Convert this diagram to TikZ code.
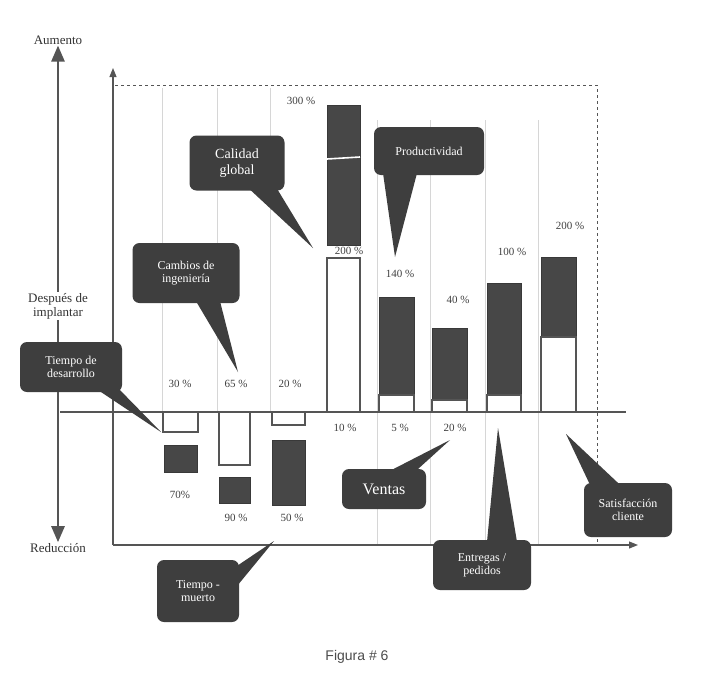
\documentclass[tikz,border=0pt]{standalone}
\usepackage{fontspec}
\setmainfont{Liberation Serif}
\newfontfamily\capfont{Liberation Sans}
\usetikzlibrary{arrows.meta}

\definecolor{barDark}{HTML}{474747}
\definecolor{bubbleGray}{HTML}{3E3E3E}
\definecolor{axisGray}{HTML}{555555}
\definecolor{guideGray}{HTML}{D6D6D6}

\begin{document}
\begin{tikzpicture}[x=1pt, y=-1pt,
        bubble/.style={rectangle, rounded corners=7pt, fill=bubbleGray, text=white, align=center, font=\fontsize{12}{13}\selectfont, inner sep=3pt},
        pointer/.style={fill=bubbleGray},
        pct/.style={font=\fontsize{11}{12}\selectfont, text=black!75, inner sep=1pt},
        side_label/.style={font=\fontsize{13}{14}\selectfont, text=black!80, align=center, inner sep=1pt},
        white_bar/.style={fill=white, draw=axisGray, line width=1.6pt},
        dark_bar/.style={fill=barDark, draw=barDark!80!black, line width=1pt},
        guide/.style={draw=guideGray, line width=0.7pt},
        big_arrow/.style={draw=axisGray, line width=2.6pt, -{Triangle[length=16pt, width=13pt]}},
        axis/.style={draw=axisGray, line width=1.1pt, -{Triangle[length=9pt, width=7pt]}}
    ]
        \useasboundingbox[fill=white] (0,0) rectangle (715,691);

        % Column guides and dashed frame
        \draw[guide] (162,88) -- (162,412);
        \draw[guide] (217,88) -- (217,412);
        \draw[guide] (270,88) -- (270,412);
        \draw[guide] (377,120) -- (377,545);
        \draw[guide] (430,120) -- (430,545);
        \draw[guide] (485,120) -- (485,545);
        \draw[guide] (538,120) -- (538,545);
        \draw[axisGray, dashed, line width=0.8pt] (115,85) -- (597,85) -- (597,545);

        % Axes
        \coordinate (origin) at (113,545);
        \coordinate (x_end) at (638,545);
        \coordinate (y_end) at (113,68);
        \draw[axis] (origin) -- (x_end);
        \draw[axis] (origin) -- (y_end);

        % Bars below the line
        \draw[white_bar] (163,412) rectangle (198,432);
        \draw[dark_bar] (164,445) rectangle (197,472);
        \draw[white_bar] (219,412) rectangle (250,465);
        \draw[dark_bar] (219,477) rectangle (250,503);
        \draw[white_bar] (272,412) rectangle (305,425);
        \draw[dark_bar] (272,440) rectangle (305,505);

        % Bars above the line
        \draw[dark_bar] (327,105) rectangle (360,245);
        \draw[white, line width=1.6pt] (327,159) -- (360,157);
        \draw[white_bar] (327,258) rectangle (360,412);
        \draw[dark_bar] (379,297) rectangle (414,395);
        \draw[white_bar] (379,395) rectangle (414,412);
        \draw[dark_bar] (432,328) rectangle (467,400);
        \draw[white_bar] (432,400) rectangle (467,412);
        \draw[dark_bar] (487,283) rectangle (521,395);
        \draw[white_bar] (487,395) rectangle (521,412);
        \draw[dark_bar] (541,257) rectangle (576,337);
        \draw[white_bar] (541,337) rectangle (576,412);

        % Base line
        \draw[axisGray, line width=2.4pt] (60,412) -- (626,412);

        % Left scale
        \node[side_label] (aumento) at (58,40) {Aumento};
        \node[side_label] (despues) at (58,306) {Después de\\implantar};
        \node[side_label] (reduccion) at (58,548) {Reducción};

        % Callouts
        \node[bubble, minimum width=102pt, minimum height=50pt] (desarrollo) at (71,367) {Tiempo de\\desarrollo};
        \node[bubble, minimum width=107pt, minimum height=60pt] (ingenieria) at (186,273) {Cambios de\\ingeniería};
        \node[bubble, font=\fontsize{14}{16}\selectfont, minimum width=95pt, minimum height=55pt] (calidad) at (237,163) {Calidad\\global};
        \node[bubble, minimum width=110pt, minimum height=48pt] (productividad) at (429,151) {Productividad};
        \node[bubble, font=\fontsize{16}{18}\selectfont, minimum width=84pt, minimum height=40pt] (ventas) at (384,489) {Ventas};
        \node[bubble, minimum width=98pt, minimum height=50pt] (entregas) at (482,565) {Entregas /\\pedidos};
        \node[bubble, minimum width=88pt, minimum height=54pt] (satisfaccion) at (628,510) {Satisfacción\\cliente};
        \node[bubble, minimum width=82pt, minimum height=62pt] (muerto) at (198,591) {Tiempo -\\muerto};

        \draw[big_arrow] (despues.north) -- (aumento.south);
        \draw[axisGray, line width=2.6pt] (despues.south) -- (despues.south |- desarrollo.north);
        \draw[big_arrow] (despues.south |- desarrollo.south) -- (reduccion.north);

        % Pointer tips
        \coordinate (desarrollo_tip) at (161,432);
        \coordinate (ingenieria_tip) at (238,372);
        \coordinate (calidad_tip) at (313,248);
        \coordinate (productividad_tip) at (395,257);
        \coordinate (ventas_tip) at (450,440);
        \coordinate (entregas_tip) at (498,428);
        \coordinate (satisfaccion_tip) at (566,434);
        \coordinate (muerto_tip) at (274,541);

        \fill[pointer] ([xshift=-24pt, yshift=2pt]desarrollo.south east) -- (desarrollo_tip) -- ([xshift=-6pt, yshift=6pt]desarrollo.south east) -- cycle;
        \fill[pointer] ([xshift=10pt, yshift=2pt]ingenieria.south) -- (ingenieria_tip) -- ([xshift=34pt, yshift=2pt]ingenieria.south) -- cycle;
        \fill[pointer] ([xshift=12pt, yshift=2pt]calidad.south) -- (calidad_tip) -- ([xshift=40pt, yshift=2pt]calidad.south) -- cycle;
        \fill[pointer] ([xshift=-46pt, yshift=2pt]productividad.south) -- (productividad_tip) -- ([xshift=-12pt, yshift=2pt]productividad.south) -- cycle;
        \fill[pointer] ([xshift=6pt, yshift=-2pt]ventas.north) -- (ventas_tip) -- ([xshift=32pt, yshift=-2pt]ventas.north) -- cycle;
        \fill[pointer] ([xshift=5pt, yshift=-2pt]entregas.north) -- (entregas_tip) -- ([xshift=35pt, yshift=-2pt]entregas.north) -- cycle;
        \fill[pointer] ([xshift=-38pt, yshift=-2pt]satisfaccion.north) -- (satisfaccion_tip) -- ([xshift=-8pt, yshift=-2pt]satisfaccion.north) -- cycle;
        \fill[pointer] ([xshift=-2pt, yshift=-6pt]muerto.north east) -- (muerto_tip) -- ([xshift=-2pt, yshift=-26pt]muerto.north east) -- cycle;

        % Percent labels
        \node[pct] (desarrollo_up) at (180,384) {30 \%};
        \node[pct] (desarrollo_down) at (180,495) {70\%};
        \node[pct] (ingenieria_up) at (236,384) {65 \%};
        \node[pct] (ingenieria_down) at (236,518) {90 \%};
        \node[pct] (muerto_up) at (290,384) {20 \%};
        \node[pct] (muerto_down) at (292,518) {50 \%};
        \node[pct] (calidad_top) at (301,101) {300 \%};
        \node[pct] (calidad_mid) at (349,251) {200 \%};
        \node[pct] (calidad_low) at (345,428) {10 \%};
        \node[pct] (productividad_up) at (400,274) {140 \%};
        \node[pct] (productividad_low) at (400,428) {5 \%};
        \node[pct] (ventas_up) at (458,300) {40 \%};
        \node[pct] (ventas_low) at (455,428) {20 \%};
        \node[pct] (entregas_up) at (512,252) {100 \%};
        \node[pct] (satisfaccion_up) at (570,226) {200 \%};

        % Caption
        \node[font=\capfont\fontsize{14}{16}\selectfont, text=black!70] (caption) at (357,657) {Figura \# 6};

    \end{tikzpicture}
\end{document}
